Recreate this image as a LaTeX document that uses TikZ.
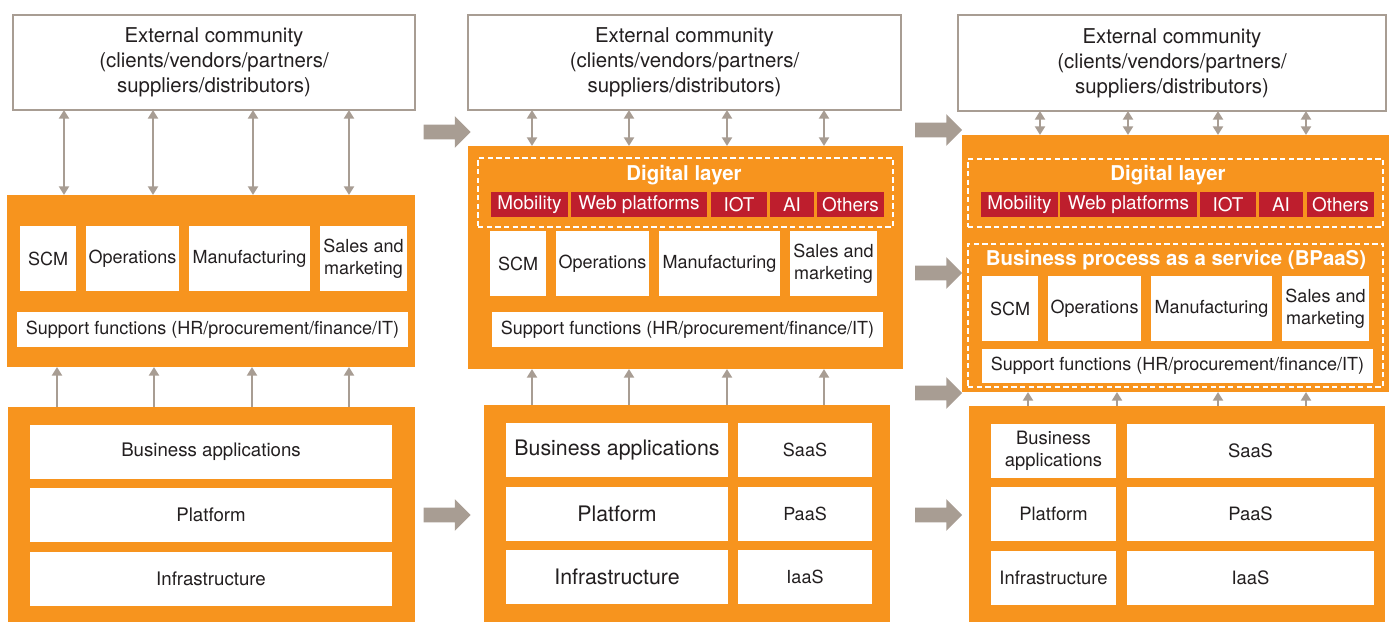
\documentclass[tikz,border=0pt]{standalone}
\usepackage{fontspec}
\setmainfont{TeX Gyre Heros}
\usetikzlibrary{arrows.meta,shapes.arrows}
\definecolor{orng}{RGB}{247,148,30}
\definecolor{taupe}{RGB}{168,157,147}
\definecolor{crimson}{RGB}{190,30,45}
\definecolor{ink}{RGB}{35,31,32}

\tikzstyle{panel} = [fill=orng, inner sep=0pt, outer sep=0pt]
\tikzstyle{cell} = [
  fill=white,
  text=ink,
  inner sep=0pt,
  outer sep=0pt,
  align=center,
  font=\fontsize{13.5}{16.3}\selectfont,
]
\tikzstyle{extbox} = [cell, draw=taupe, line width=1.5pt, font=\fontsize{15.3}{18.75}\selectfont]
\tikzstyle{tag} = [fill=crimson, text=white, inner sep=0pt, outer sep=0pt, font=\fontsize{14.2}{16}\selectfont]
\tikzstyle{layer} = [draw=white, line width=1.5pt, dash pattern=on 4pt off 2.5pt, inner sep=0pt, outer sep=0pt]
\tikzstyle{title} = [text=white, font=\bfseries\fontsize{15.3}{18}\selectfont]
\tikzstyle{link} = [draw=taupe, line width=1.6pt]
\tikzstyle{fat} = [
  single arrow,
  fill=taupe,
  inner xsep=0pt,
  inner ysep=5.25pt,
  text height=0pt,
  text depth=0pt,
  text width=0pt,
  minimum height=35.25pt,
  single arrow head extend=6.4pt,
]

% box from top-left (x1,y1) to bottom-right (x2,y2), in pixels
\newcommand{\blk}[7][]{%
  \node[#1, anchor=north west, minimum width={(#5-#3)*0.75pt},
        minimum height={(#6-#4)*0.75pt}] (#2) at (#3,#4) {#7};}

\begin{document}
\begin{tikzpicture}[x=0.75pt, y=-0.75pt, >={Triangle[width=7.5pt,length=6.5pt]}]
    \useasboundingbox (0,0) rectangle (1390,623);
    \def\ext{External community\\(clients/vendors/partners/\\suppliers/distributors)}
    \def\sup{Support functions (HR/procurement/finance/IT)}

    % Panel 1
    \blk[extbox]{ext1}{13}{15}{415}{110}{\ext}
    \blk[panel]{mid1}{7}{195}{415}{367}{}
    \blk[cell]{scm1}{20}{226}{76}{291}{SCM}
    \blk[cell]{ops1}{86}{226}{179}{291}{Operations}
    \blk[cell]{man1}{189}{226}{310}{291}{Manufacturing}
    \blk[cell]{sal1}{320}{226}{407}{291}{Sales and\\marketing}
    \blk[cell]{sup1}{17}{312}{408}{347}{\sup}
    \blk[panel]{bot1}{8}{407}{415}{622}{}
    \blk[cell, font=\fontsize{14}{16}\selectfont]{ba1}{30}{425}{392}{479}{Business applications}
    \blk[cell, font=\fontsize{14}{16}\selectfont]{pf1}{30}{488}{392}{542}{Platform}
    \blk[cell, font=\fontsize{14}{16}\selectfont]{inf1}{30}{552}{392}{606}{Infrastructure}

    \foreach \x in {64,153,253,349}
        \draw[link, <->] (ext1.south -| \x,0) -- (mid1.north -| \x,0);
    \foreach \x in {57,154,252,349}
        \draw[link, ->] (bot1.north -| \x,0) -- (mid1.south -| \x,0);

    % Panel 2
    \blk[extbox]{ext2}{468}{15}{901}{110}{\ext}
    \blk[panel]{mid2}{468}{146}{903}{369}{}
    \blk[layer]{dig2}{478}{158}{893}{227}{}
    \node[title] (dt2) at (684,175) {Digital layer};
    \blk[tag]{mob2}{491}{192}{568}{217}{Mobility}
    \blk[tag]{web2}{571}{192}{707}{217}{Web platforms}
    \blk[tag]{iot2}{711}{192}{767}{217}{IOT}
    \blk[tag]{ai2}{770}{192}{814}{217}{AI}
    \blk[tag]{oth2}{817}{192}{884}{217}{Others}
    \blk[cell]{scm2}{490}{231}{546}{296}{SCM}
    \blk[cell]{ops2}{556}{231}{649}{296}{Operations}
    \blk[cell]{man2}{659}{231}{780}{296}{Manufacturing}
    \blk[cell]{sal2}{790}{231}{877}{296}{Sales and\\marketing}
    \blk[cell]{sup2}{492}{312}{883}{347}{\sup}
    \blk[panel]{bot2}{484}{405}{890}{622}{}
    \blk[cell, font=\fontsize{16}{18}\selectfont]{ba2}{506}{423}{728}{477}{Business applications}
    \blk[cell, font=\fontsize{16}{18}\selectfont]{pf2}{506}{487}{728}{541}{Platform}
    \blk[cell, font=\fontsize{16}{18}\selectfont]{inf2}{506}{550}{728}{604}{Infrastructure}
    \blk[cell]{saas2}{738}{423}{872}{477}{SaaS}
    \blk[cell]{paas2}{738}{487}{872}{541}{PaaS}
    \blk[cell]{iaas2}{738}{550}{872}{604}{IaaS}

    \foreach \x in {532,629,727,824} {
        \draw[link, <->] (ext2.south -| \x,0) -- (mid2.north -| \x,0);
        \draw[link, ->] (bot2.north -| \x,0) -- (mid2.south -| \x,0);
    }

    % Panel 3
    \blk[extbox]{ext3}{958}{15}{1386}{111}{\ext}
    \blk[panel]{mid3}{962}{135}{1389}{392}{}
    \blk[layer]{dig3}{968}{159}{1383}{227}{}
    \node[title] (dt3) at (1168,175) {Digital layer};
    \blk[tag]{mob3}{981}{192}{1058}{217}{Mobility}
    \blk[tag]{web3}{1060}{192}{1197}{217}{Web platforms}
    \blk[tag]{iot3}{1200}{192}{1256}{217}{IOT}
    \blk[tag]{ai3}{1259}{192}{1303}{217}{AI}
    \blk[tag]{oth3}{1307}{192}{1374}{217}{Others}
    \blk[layer]{bp3}{968}{244}{1383}{387}{}
    \node[title] (bt3) at (1176,260) {Business process as a service (BPaaS)};
    \blk[cell]{scm3}{982}{276}{1038}{341}{SCM}
    \blk[cell]{ops3}{1048}{276}{1141}{341}{Operations}
    \blk[cell]{man3}{1151}{276}{1272}{341}{Manufacturing}
    \blk[cell]{sal3}{1282}{276}{1369}{341}{Sales and\\marketing}
    \blk[cell]{sup3}{982}{349}{1373}{383}{\sup}
    \blk[panel]{bot3}{969}{406}{1385}{622}{}
    \blk[cell, font=\fontsize{13.8}{16.5}\selectfont]{ba3}{991}{424}{1116}{478}{Business\\applications}
    \blk[cell, font=\fontsize{13.8}{16.5}\selectfont]{pf3}{991}{487}{1116}{541}{Platform}
    \blk[cell, font=\fontsize{13.8}{16.5}\selectfont]{inf3}{991}{551}{1116}{605}{Infrastructure}
    \blk[cell, font=\fontsize{13.8}{16.5}\selectfont]{saas3}{1127}{424}{1374}{478}{SaaS}
    \blk[cell, font=\fontsize{13.8}{16.5}\selectfont]{paas3}{1127}{487}{1374}{541}{PaaS}
    \blk[cell, font=\fontsize{13.8}{16.5}\selectfont]{iaas3}{1127}{551}{1374}{605}{IaaS}

    \foreach \x in {1040,1128,1218,1306}
        \draw[link, <->] (ext3.south -| \x,0) -- (mid3.north -| \x,0);
    \foreach \x in {1028,1117,1218,1306}
        \draw[link, ->] (bot3.north -| \x,0) -- (mid3.south -| \x,0);

    % Shift arrows
    \node[fat] (go1) at (443.5,132) {};
    \node[fat] (go2) at (443.5,515) {};
    \node[fat] (go3) at (935,130) {};
    \node[fat] (go4) at (935,273) {};
    \node[fat] (go5) at (935,393) {};
    \node[fat] (go6) at (935,515) {};
\end{tikzpicture}
\end{document}
